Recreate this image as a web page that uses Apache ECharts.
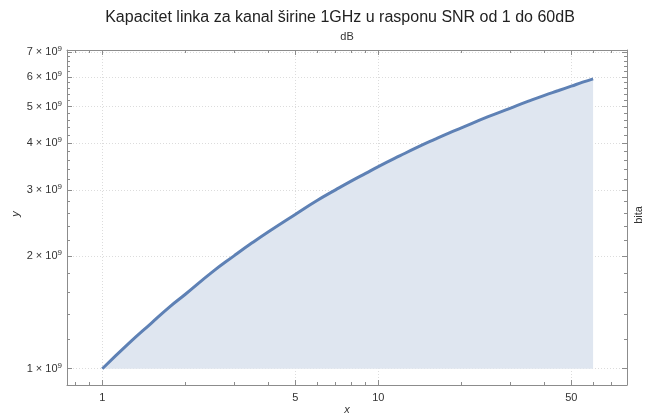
<!DOCTYPE html>
<html>
<head>
<meta charset="utf-8">
<script src="https://cdn.jsdelivr.net/npm/echarts@6/dist/echarts.min.js"></script>
<style>html,body{margin:0;padding:0;background:#fff}#c{width:645px;height:414px}</style>
</head>
<body>
<div id="c"></div>
<script>
// SNR (linear) and capacity in units of 1e9 bit/s
const snrValues = [1, 1.25, 1.5, 1.75, 2, 2.5, 3, 3.5, 4, 5, 6, 7, 8, 9, 10, 12, 14, 16, 18, 20, 25, 30, 35, 40, 45, 50, 55, 60];
const capacityG = [1.0, 1.17, 1.32, 1.46, 1.58, 1.81, 2.0, 2.17, 2.32, 2.58, 2.81, 3.0, 3.17, 3.32, 3.46, 3.70, 3.91, 4.09, 4.25, 4.39, 4.70, 4.95, 5.17, 5.36, 5.52, 5.67, 5.81, 5.93];
const xMajorTicks = [1, 5, 10, 50];
const xMinorTicks = [0.8, 0.9, 2, 3, 4, 6, 7, 8, 9, 20, 30, 40, 60, 70];
const yMajorTicks = [1, 2, 3, 4, 5, 6, 7];
const yMinorTicks = [1.2, 1.4, 1.6, 1.8, 2.2, 2.4, 2.6, 2.8, 3.2, 3.4, 3.6, 3.8, 4.2, 4.4, 4.6, 4.8, 5.2, 5.4, 5.6, 5.8, 6.2, 6.4, 6.6, 6.8];
const xRange = [0.745, 79.6];
const yRange = [0.905, 7.08];
const titleText = 'Kapacitet linka za kanal širine 1GHz u rasponu SNR od 1 do 60dB';
const subText = 'dB';

const L = Math.log10;
const data = snrValues.map((x, i) => [L(x), L(capacityG[i] * 1e9)]);
const frame = '#8c8c8c';
const font = 'Liberation Sans, Arial, sans-serif';

function xAxisDef(pos, ticks, len, labels, split, line) {
  const vals = ticks.map(L);
  return {
    type: 'value', position: pos, gridIndex: 0,
    min: L(xRange[0]), max: L(xRange[1]),
    axisLine: {show: line, onZero: false, lineStyle: {color: frame, width: 1}},
    axisTick: {show: true, inside: true, length: len, customValues: vals, lineStyle: {color: frame}},
    axisLabel: labels ? {show: true, customValues: vals, color: '#333', fontFamily: font, fontSize: 11, margin: 7,
      formatter: v => String(Math.round(Math.pow(10, v)))} : {show: false},
    splitLine: {show: split, lineStyle: {color: '#dcdcdc', type: [1, 2], width: 1}},
    minorTick: {show: false}
  };
}
function yAxisDef(pos, ticks, len, labels, split, line) {
  const vals = ticks.map(v => L(v * 1e9));
  return {
    type: 'value', position: pos, gridIndex: 0,
    min: L(yRange[0] * 1e9), max: L(yRange[1] * 1e9),
    axisLine: {show: line, onZero: false, lineStyle: {color: frame, width: 1}},
    axisTick: {show: true, inside: true, length: len, customValues: vals, lineStyle: {color: frame}},
    axisLabel: labels ? {show: true, customValues: vals, margin: 5,
      formatter: v => '{a|' + Math.round(Math.pow(10, v) / 1e9) + ' × 10}{s|9}',
      rich: {
        a: {color: '#333', fontFamily: font, fontSize: 11},
        s: {color: '#333', fontFamily: font, fontSize: 8, verticalAlign: 'top', padding: [0, 0, 6, 0]}
      }} : {show: false},
    splitLine: {show: split, lineStyle: {color: '#dcdcdc', type: [1, 2], width: 1}},
    minorTick: {show: false}
  };
}

const chart = echarts.init(document.getElementById('c'), null, {renderer: 'canvas'});
chart.setOption({
  animation: false,
  backgroundColor: '#fff',
  grid: {left: 67, right: 18, top: 50, bottom: 29, containLabel: false},
  xAxis: [
    xAxisDef('bottom', xMajorTicks, 5, true, true, true),
    xAxisDef('bottom', xMinorTicks, 3, false, false, false),
    xAxisDef('top', xMajorTicks, 5, false, false, true),
    xAxisDef('top', xMinorTicks, 3, false, false, false)
  ],
  yAxis: [
    yAxisDef('left', yMajorTicks, 5, true, true, true),
    yAxisDef('left', yMinorTicks, 3, false, false, false),
    yAxisDef('right', yMajorTicks, 5, false, false, true),
    yAxisDef('right', yMinorTicks, 3, false, false, false)
  ],
  series: [{
    type: 'line', xAxisIndex: 0, yAxisIndex: 0,
    data: data, smooth: 0.5, showSymbol: false, symbol: 'none',
    lineStyle: {color: '#5e81b5', width: 3},
    areaStyle: {color: '#dfe6f0', opacity: 1, origin: 9},
    z: 3
  }],
  graphic: [
    {type: 'text', x: 340, y: 18, style: {text: titleText, font: '16px ' + font, fill: '#222', textAlign: 'center', textVerticalAlign: 'middle'}},
    {type: 'text', x: 347, y: 37, style: {text: subText, font: '11px ' + font, fill: '#333', textAlign: 'center', textVerticalAlign: 'middle'}},
    {type: 'text', x: 347, y: 410, style: {text: 'x', font: 'italic 11px ' + font, fill: '#333', textAlign: 'center', textVerticalAlign: 'middle'}},
    {type: 'text', x: 16, y: 214, rotation: Math.PI / 2, style: {text: 'y', font: 'italic 11px ' + font, fill: '#333', textAlign: 'center', textVerticalAlign: 'middle'}},
    {type: 'text', x: 639, y: 215, rotation: Math.PI / 2, style: {text: 'bita', font: '11px ' + font, fill: '#333', textAlign: 'center', textVerticalAlign: 'middle'}}
  ]
});
</script>
</body>
</html>
